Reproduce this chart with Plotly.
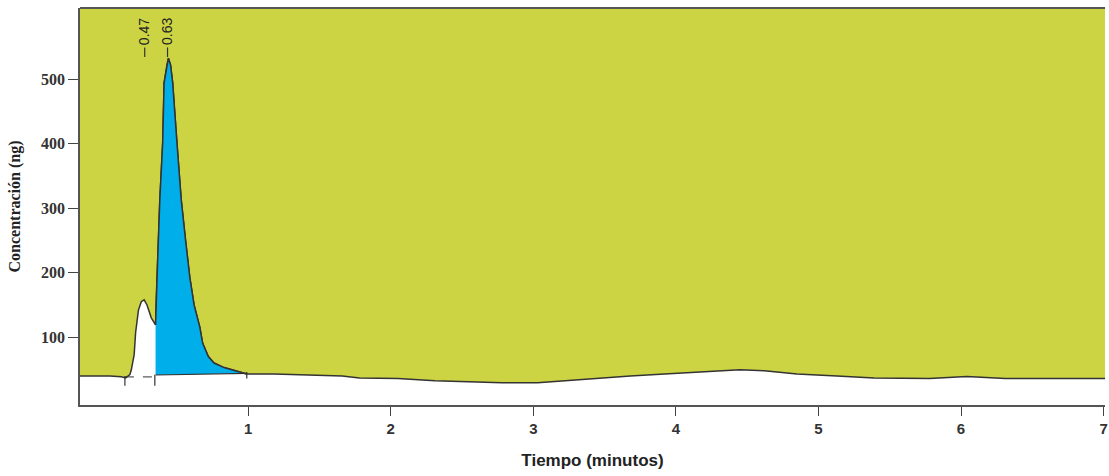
import plotly.graph_objects as go

# Chromatogram signal (time in minutes, concentration in ng)
time = [-0.18, 0.03, 0.11, 0.14, 0.17, 0.18, 0.20, 0.21, 0.23, 0.25, 0.27, 0.29, 0.32, 0.34, 0.35,
        0.355, 0.365, 0.38, 0.40, 0.41, 0.43, 0.44, 0.455, 0.47, 0.50, 0.53, 0.56, 0.59, 0.62, 0.66,
        0.68, 0.72, 0.76, 0.83, 0.94, 0.99, 1.18, 1.36, 1.66, 1.78, 2.05, 2.31, 2.56, 2.78, 3.03,
        3.22, 3.45, 3.68, 3.92, 4.15, 4.45, 4.62, 4.85, 5.13, 5.39, 5.78, 6.04, 6.31, 7.02]
conc = [40, 40, 38.7, 37, 42, 49.5, 73, 107, 142, 155, 158, 150, 130, 121, 119,
        160, 220, 313, 401, 494, 522, 532, 522, 494, 401, 313, 251, 193, 150, 116,
        91, 70, 60, 53, 46, 43, 43, 42, 40, 37, 36, 32.5, 31, 29.4, 29.4,
        32.5, 37, 40, 43, 46, 49.5, 48, 43, 40, 37, 36, 39, 36, 36]

# Integrated (blue) peak window and its baseline
blue_start, blue_end = 0.35, 0.99
blue_base_start, blue_base_end = 41.5, 44.0

# Dashed baseline under the first (non-integrated) peak
dash_t = [0.135, 0.345]
dash_v = [38.5, 38.5]

# Integration marks (time, top, bottom)
mark_t = [0.135, 0.345, 0.99]
mark_top = [40, 42, 46]
mark_bot = [25, 25, 36]

# Peak labels
peak_labels = ["0.47", "0.63"]
peak_label_t = [0.274, 0.434]

x_ticks = [1, 2, 3, 4, 5, 6, 7]
y_ticks = [100, 200, 300, 400, 500]

OLIVE = "#CDD444"
BLUE = "#00AEEA"
LINE = "#333333"

fig = go.Figure()

# white area below the signal
fig.add_trace(go.Scatter(x=time, y=[-20] * len(time), mode="lines",
                         line=dict(width=0, color="white"), hoverinfo="skip", showlegend=False))
fig.add_trace(go.Scatter(x=time, y=conc, mode="lines", fill="tonexty", fillcolor="white",
                         line=dict(color=LINE, width=1.5), showlegend=False))

# blue integrated peak
bt = [t for t in time if blue_start <= t <= blue_end]
bv = [v for t, v in zip(time, conc) if blue_start <= t <= blue_end]
bb = [blue_base_start + (blue_base_end - blue_base_start) * (t - blue_start) / (blue_end - blue_start) for t in bt]
fig.add_trace(go.Scatter(x=bt, y=bb, mode="lines", line=dict(color=LINE, width=1.2),
                         hoverinfo="skip", showlegend=False))
fig.add_trace(go.Scatter(x=bt, y=bv, mode="lines", fill="tonexty", fillcolor=BLUE,
                         line=dict(color=LINE, width=1.5), showlegend=False))

# dashed baseline
fig.add_trace(go.Scatter(x=dash_t, y=dash_v, mode="lines",
                         line=dict(color=LINE, width=1, dash="dash"), showlegend=False))

# integration marks
for t, a, b in zip(mark_t, mark_top, mark_bot):
    fig.add_shape(type="line", x0=t, x1=t, y0=a, y1=b, line=dict(color=LINE, width=1.2))

# peak labels
for lab, t in zip(peak_labels, peak_label_t):
    fig.add_annotation(x=t, y=0.902, xref="x", yref="paper", text=lab, textangle=-90,
                       yanchor="bottom", showarrow=False,
                       font=dict(family="Liberation Sans", size=14, color="#222"))
    fig.add_shape(type="line", x0=t, x1=t, y0=549, y1=534, line=dict(color=LINE, width=1.2))

fig.update_layout(
    width=1109, height=476,
    margin=dict(l=80, r=1, t=8, b=71),
    plot_bgcolor=OLIVE, paper_bgcolor="white",
    showlegend=False,
)
fig.update_xaxes(range=[-0.18, 7.01], tickvals=x_ticks, ticktext=[str(v) for v in x_ticks],
                 showgrid=False, zeroline=False, showline=True, linecolor="#555", linewidth=1.5,
                 ticks="outside", ticklen=9, tickcolor="#444", ticklabeloverflow="allow",
                 tickfont=dict(family="Liberation Sans", size=15, color="#333", weight="bold"),
                 title=dict(text="Tiempo (minutos)", standoff=18,
                            font=dict(family="Liberation Sans", size=17, color="#222", weight="bold")))
fig.update_yaxes(range=[-5, 610], tickvals=y_ticks, ticktext=[str(v) for v in y_ticks],
                 showgrid=False, zeroline=False, showline=True, linecolor="#555", linewidth=1.5,
                 ticks="outside", ticklen=10, tickcolor="#444",
                 tickfont=dict(family="Liberation Serif", size=16, color="#333", weight="bold"),
                 title=dict(text="Concentración (ng)", standoff=16,
                            font=dict(family="Liberation Serif", size=16, color="#222", weight="bold")))
# top border
fig.add_shape(type="line", xref="paper", yref="paper", x0=0, x1=1, y0=1, y1=1,
              line=dict(color="#555", width=2))

fig.write_html("out.html", config={"displayModeBar": False},
               post_script="document.body.style.margin='0';")
